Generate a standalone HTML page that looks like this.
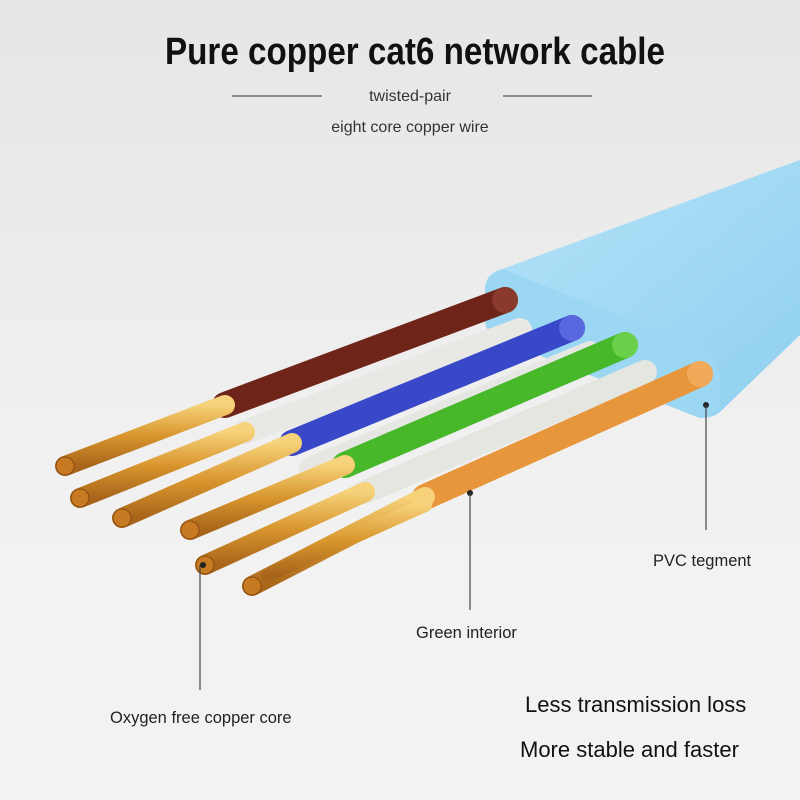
<!DOCTYPE html>
<html><head><meta charset="utf-8"><style>
html,body{margin:0;padding:0}
body{width:800px;height:800px;overflow:hidden;background:linear-gradient(180deg,#e6e6e6,#f1f1f1 60%,#f3f3f3);font-family:"Liberation Sans",sans-serif}
svg{display:block}
</style></head><body>
<svg width="800" height="800" viewBox="0 0 800 800" xmlns="http://www.w3.org/2000/svg">
<defs>
<linearGradient id="cu" x1="0" y1="0" x2="0" y2="1">
<stop offset="0" stop-color="#f6d27a"/><stop offset="0.5" stop-color="#d9962e"/><stop offset="1" stop-color="#a8651a"/>
</linearGradient>
<linearGradient id="jk" x1="0" y1="0" x2="1" y2="1">
<stop offset="0" stop-color="#b5e3f8"/><stop offset="1" stop-color="#8fd0f0"/>
</linearGradient>
</defs>
<text x="165" y="64" font-size="38" font-weight="bold" fill="#111" textLength="500" lengthAdjust="spacingAndGlyphs">Pure copper cat6 network cable</text>
<line x1="232" y1="96" x2="322" y2="96" stroke="#333" stroke-width="1"/>
<line x1="503" y1="96" x2="592" y2="96" stroke="#333" stroke-width="1"/>
<text x="410" y="101" text-anchor="middle" font-size="16" fill="#333">twisted-pair</text>
<text x="410" y="132" text-anchor="middle" font-size="16" fill="#333">eight core copper wire</text>

<path d="M485,290 Q485,272 505,268 L800,160 L800,335 L722,410 Q715,418 700,418 L500,340 Q485,333 485,320 Z" fill="url(#jk)"/>
<path d="M485,290 Q485,272 505,270 L700,348 Q720,356 720,378 L720,400 Q718,418 700,418 L500,340 Q485,333 485,320 Z" fill="#9bd6f2"/>

<g stroke-linecap="round">
<line x1="505" y1="300" x2="225" y2="405" stroke="#6e2418" stroke-width="26"/>
<line x1="225" y1="405" x2="65" y2="466" stroke="url(#cu)" stroke-width="20"/>
<line x1="520" y1="330" x2="245" y2="432" stroke="#e8e8e4" stroke-width="24"/>
<line x1="245" y1="432" x2="80" y2="498" stroke="url(#cu)" stroke-width="20"/>
<line x1="572" y1="328" x2="292" y2="443" stroke="#3848c8" stroke-width="26"/>
<line x1="292" y1="443" x2="122" y2="518" stroke="url(#cu)" stroke-width="20"/>
<line x1="590" y1="352" x2="310" y2="468" stroke="#e6e6e2" stroke-width="22"/>
<line x1="625" y1="345" x2="345" y2="465" stroke="#46b82a" stroke-width="26"/>
<line x1="345" y1="465" x2="190" y2="530" stroke="url(#cu)" stroke-width="20"/>
<line x1="645" y1="372" x2="365" y2="492" stroke="#e4e6e0" stroke-width="24"/>
<line x1="365" y1="492" x2="205" y2="565" stroke="url(#cu)" stroke-width="20"/>
<line x1="700" y1="374" x2="425" y2="497" stroke="#e8963c" stroke-width="26"/>
<line x1="425" y1="497" x2="252" y2="586" stroke="url(#cu)" stroke-width="20"/>
<line x1="425" y1="505" x2="268" y2="575" stroke="url(#cu)" stroke-width="14"/>
</g>
<circle cx="505" cy="300" r="13" fill="#8a3a2c"/>
<circle cx="572" cy="328" r="13" fill="#5a68e0"/>
<circle cx="625" cy="345" r="13" fill="#6ad04a"/>
<circle cx="700" cy="374" r="13" fill="#f0aa5a"/>
<g fill="#c77a22" stroke="#8a4a10" stroke-width="1">
<circle cx="65" cy="466" r="9"/><circle cx="80" cy="498" r="9"/><circle cx="122" cy="518" r="9"/>
<circle cx="190" cy="530" r="9"/><circle cx="205" cy="565" r="9"/><circle cx="252" cy="586" r="9"/>
</g>
<circle cx="706" cy="405" r="3" fill="#222"/>
<circle cx="470" cy="493" r="3" fill="#222"/>
<circle cx="203" cy="565" r="3" fill="#222"/>
<g stroke="#444" stroke-width="1.2">
<line x1="706" y1="405" x2="706" y2="530"/>
<line x1="470" y1="493" x2="470" y2="610"/>
<line x1="200" y1="565" x2="200" y2="690"/>
</g>
<text x="653" y="566" font-size="16.5" fill="#222">PVC tegment</text>
<text x="416" y="638" font-size="16.5" fill="#222">Green interior</text>
<text x="110" y="723" font-size="16.5" fill="#222">Oxygen free copper core</text>
<text x="525" y="712" font-size="22" fill="#111">Less transmission loss</text>
<text x="520" y="757" font-size="22" fill="#111">More stable and faster</text>
</svg>
</body></html>
